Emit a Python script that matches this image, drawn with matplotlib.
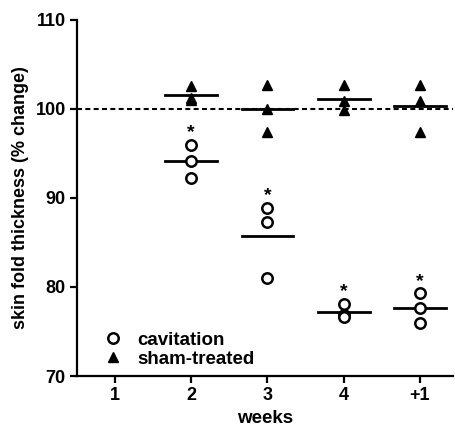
import numpy as np
import matplotlib.pyplot as plt

plt.rcParams['font.family'] = 'sans-serif'
plt.rcParams['font.sans-serif'] = ['Liberation Sans', 'Arial', 'DejaVu Sans']
plt.rcParams['font.weight'] = 'bold'

week_labels = ["1", "2", "3", "4", "+1"]
week_pos    = [1, 2, 3, 4, 5]

# individual values per week (week 1 = baseline, no points)
cav_weeks  = [2, 3, 4, 5]
cavitation = [[96.0, 94.2, 92.2],
              [88.9, 87.3, 81.0],
              [78.1, 76.9, 76.6],
              [79.3, 77.6, 75.9]]
sham       = [[102.6, 101.2, 101.0],
              [102.7, 100.0, 97.4],
              [102.7, 100.9, 99.9],
              [102.7, 100.9, 97.4]]
significant = [True, True, True, True]

fig = plt.figure(figsize=(4.55, 4.32), dpi=100)
ax = fig.add_axes([0.169, 0.1296, 0.826, 0.8244])

ax.axhline(100, color='black', ls=(0, (2.4, 1.6)), lw=1.5, zorder=1)

for w, c, s, sig in zip(cav_weeks, cavitation, sham, significant):
    ax.plot([w] * len(s), s, '^', color='black', ms=7.5, zorder=3)
    ax.plot([w] * len(c), c, 'o', mfc='white', mec='black', mew=1.8,
            ms=7.5, zorder=3)
    for vals in (c, s):
        m = np.mean(vals)
        ax.plot([w - 0.34, w + 0.34], [m, m], color='black', lw=2, zorder=2)
    if sig:
        ax.annotate('*', (w, max(c)), textcoords='offset points',
                    xytext=(0, 2.5), ha='center', va='bottom',
                    fontsize=14, fontweight='bold')

ax.plot([], [], 'o', mfc='white', mec='black', mew=1.8, ms=7.5,
        label='cavitation')
ax.plot([], [], '^', color='black', ms=7.5, label='sham-treated')
ax.legend(loc='upper left', bbox_to_anchor=(0.073, 0.125), frameon=False,
          fontsize=13.5, handlelength=0.95, handletextpad=0.8,
          labelspacing=0.12, borderaxespad=0, borderpad=0)

ax.set_xlim(0.5, 5.43)
ax.set_ylim(70, 110)
ax.set_xticks(week_pos)
ax.set_xticklabels(week_labels)
ax.set_yticks([70, 80, 90, 100, 110])
ax.spines['top'].set_visible(False)
ax.spines['right'].set_visible(False)
ax.spines['left'].set_linewidth(1.6)
ax.spines['bottom'].set_linewidth(1.6)
ax.tick_params(width=1.6, length=5, labelsize=13, pad=3)
for lab in ax.get_xticklabels() + ax.get_yticklabels():
    lab.set_fontweight('bold')

ax.set_xlabel('weeks', fontsize=13.5, fontweight='bold', labelpad=4)
ax.set_ylabel('skin fold thickness (% change)', fontsize=13,
              fontweight='bold', labelpad=5)

fig.savefig('out.png', dpi=100, facecolor='white')
